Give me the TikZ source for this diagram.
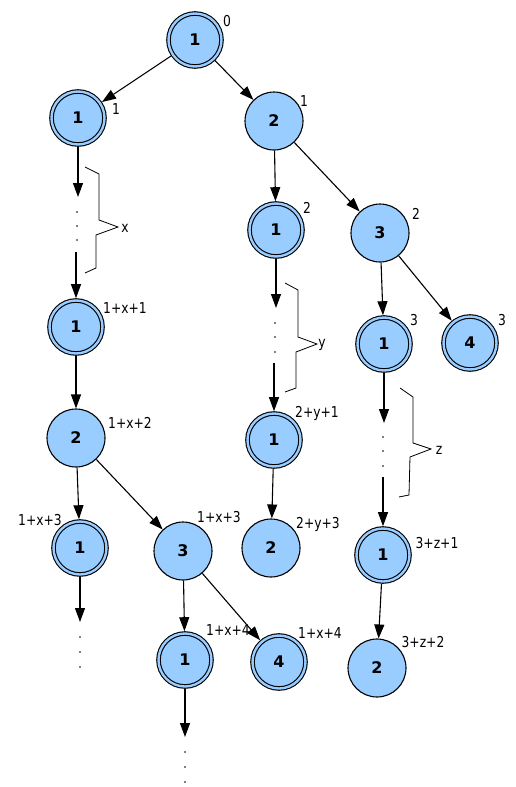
\documentclass[tikz,border=0pt]{standalone}
\usepackage{fontspec}
\setmainfont{DejaVu Sans}
\newfontfamily\lblfont[FakeStretch = 0.82]{DejaVu Sans}
\usetikzlibrary{arrows.meta}
\definecolor{stateblue}{HTML}{99CCFF}

\begin{document}
\begin{tikzpicture}[x = 1pt, y = -1pt, >= {Triangle[length = 14pt, width = 10pt]},
    state/.style = {circle, draw, line width = 1.1pt, fill = stateblue, minimum size = 58pt,
                    inner sep = 0, font = \fontsize{16}{16}\selectfont\bfseries},
    final/.style = {state, minimum size = 53pt, double = stateblue, double distance = 2.4pt,
                    outer sep = 2.3pt},
    lbl/.style = {inner sep = 0, font = \lblfont\fontsize{15}{15}\selectfont},
    edge/.style = {line width = 1.1pt, ->},
    gap/.style = {line width = 0.8pt}]
    \useasboundingbox (0, 0) rectangle (516, 787);

    % states
    \node[final] (root) at (195, 40) {1};
    \node[final] (a1) at (78, 118) {1};
    \node[state] (b1) at (274, 121) {2};
    \node[final] (a2) at (76, 327) {1};
    \node[state] (a3) at (76, 438) {2};
    \node[final] (a4) at (80, 548) {1};
    \node[state] (c3) at (183, 551) {3};
    \node[final] (c4) at (185, 660) {1};
    \node[final] (c5) at (279, 662) {4};
    \node[final] (b2) at (276, 230) {1};
    \node[final] (b3) at (274, 440) {1};
    \node[state] (b4) at (271, 548) {2};
    \node[state] (d1) at (380, 233) {3};
    \node[final] (d2) at (384, 344) {1};
    \node[final] (d3) at (470, 343) {4};
    \node[final] (d4) at (383, 555) {1};
    \node[state] (d5) at (377, 668) {2};

    % depths
    \node[lbl] (lroot) at (227, 21) {0};
    \node[lbl] (la1) at (116, 109) {1};
    \node[lbl] (lb1) at (304, 101) {1};
    \node[lbl] (la2) at (125, 308) {1+x+1};
    \node[lbl] (la3) at (130, 423) {1+x+2};
    \node[lbl] (la4) at (40, 520) {1+x+3};
    \node[lbl] (lc3) at (219, 517) {1+x+3};
    \node[lbl] (lc4) at (228, 630) {1+x+4};
    \node[lbl] (lc5) at (320, 633) {1+x+4};
    \node[lbl] (lb2) at (307, 208) {2};
    \node[lbl] (lb3) at (317, 413) {2+y+1};
    \node[lbl] (lb4) at (318, 524) {2+y+3};
    \node[lbl] (ld1) at (416, 214) {2};
    \node[lbl] (ld2) at (414, 320) {3};
    \node[lbl] (ld3) at (502, 320) {3};
    \node[lbl] (ld4) at (437, 543) {3+z+1};
    \node[lbl] (ld5) at (423, 642) {3+z+2};

    % transitions
    \draw[edge] (root) -- (a1);
    \draw[edge] (root) -- (b1);
    \draw[edge] (b1) -- (b2);
    \draw[edge] (b1) -- (d1);
    \draw[edge] (d1) -- (d2);
    \draw[edge] (d1) -- (d3);
    \draw[edge] (a2) -- (a3);
    \draw[edge] (a3) -- (a4);
    \draw[edge] (a3) -- (c3);
    \draw[edge] (c3) -- (c4);
    \draw[edge] (c3) -- (c5);
    \draw[edge] (b3) -- (b4);
    \draw[edge] (d4) -- (d5);

    % elided runs
    \coordinate (a1d) at (78, 197);
    \coordinate (a2u) at (76, 252);
    \draw[edge] (a1) -- (a1d);
    \draw[edge] (a2u) -- (a2);
    \foreach \y in {212, 226, 240} \fill (77, \y) circle (0.9);

    \coordinate (b2d) at (276, 308);
    \coordinate (b3u) at (274, 363);
    \draw[edge] (b2) -- (b2d);
    \draw[edge] (b3u) -- (b3);
    \foreach \y in {323, 337, 352} \fill (275, \y) circle (0.9);

    \coordinate (d2d) at (384, 423);
    \coordinate (d4u) at (383, 477);
    \draw[edge] (d2) -- (d2d);
    \draw[edge] (d4u) -- (d4);
    \foreach \y in {437, 451, 466} \fill (383, \y) circle (0.9);

    \coordinate (a4d) at (80, 622);
    \draw[edge] (a4) -- (a4d);
    \foreach \y in {637, 652, 667} \fill (80, \y) circle (0.9);

    \coordinate (c4d) at (185, 737);
    \draw[edge] (c4) -- (c4d);
    \foreach \y in {752, 767, 782} \fill (185, \y) circle (0.9);

    % braces
    \draw[gap] (85, 167) -- (99, 174) -- (99, 220) -- (118, 227) -- (96, 235) -- (96, 268) -- (85, 273);
    \node[lbl] (bx) at (125, 228) {x};
    \draw[gap] (285, 283) -- (298, 290) -- (298, 337) -- (317, 344) -- (296, 352) -- (296, 388) -- (285, 392);
    \node[lbl] (by) at (322, 345) {y};
    \draw[gap] (400, 388) -- (413, 397) -- (413, 443) -- (431, 449) -- (410, 457) -- (409, 495) -- (399, 497);
    \node[lbl] (bz) at (439, 450) {z};
\end{tikzpicture}
\end{document}
